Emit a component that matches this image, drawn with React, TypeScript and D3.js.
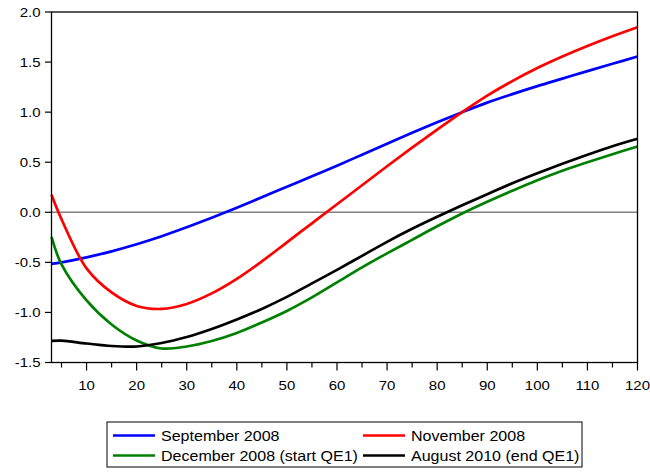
import React from 'react';
import * as d3 from 'd3';

// horizon (months) sampled along the curves
const horizons = [3, 5, 10, 15, 20, 25, 30, 35, 40, 45, 50, 55, 60, 65, 70, 75, 80, 85, 90, 95, 100, 105, 110, 115, 120];

const sep2008 = [-0.515, -0.5, -0.45, -0.39, -0.32, -0.24, -0.15, -0.055, 0.045, 0.15, 0.255, 0.36, 0.465, 0.575, 0.685, 0.795, 0.9, 1.0, 1.095, 1.18, 1.26, 1.335, 1.41, 1.483, 1.555];
const nov2008 = [0.175, -0.07, -0.56, -0.8, -0.935, -0.965, -0.915, -0.81, -0.665, -0.49, -0.3, -0.11, 0.08, 0.27, 0.46, 0.645, 0.825, 1.0, 1.165, 1.31, 1.44, 1.555, 1.66, 1.757, 1.847];
const dec2008 = [-0.246, -0.52, -0.88, -1.12, -1.28, -1.36, -1.34, -1.285, -1.205, -1.1, -0.985, -0.85, -0.7, -0.55, -0.41, -0.275, -0.14, -0.012, 0.105, 0.215, 0.32, 0.415, 0.5, 0.58, 0.657];
const aug2010 = [-1.285, -1.282, -1.31, -1.335, -1.34, -1.305, -1.245, -1.165, -1.07, -0.965, -0.845, -0.71, -0.575, -0.435, -0.295, -0.165, -0.045, 0.07, 0.18, 0.29, 0.39, 0.485, 0.575, 0.66, 0.734];

const seriesNames = ['September 2008', 'November 2008', 'December 2008 (start QE1)', 'August 2010 (end QE1)'];
const seriesColors = ['#0000ff', '#ff0000', '#008000', '#000000'];
const seriesValues = [sep2008, nov2008, dec2008, aug2010];

const yTicks = [-1.5, -1.0, -0.5, 0.0, 0.5, 1.0, 1.5, 2.0];
const xMajor = [10, 20, 30, 40, 50, 60, 70, 80, 90, 100, 110, 120];
const xMinor = [5, 15, 25, 35, 45, 55, 65, 75, 85, 95, 105, 115];

const W = 650;
const H = 472;
const FONT = '"Liberation Sans", Arial, sans-serif';
const TICK_STRETCH = 1.2;

export default function App() {
  const x = d3.scaleLinear().domain([3, 120]).range([51.5, 637.5]);
  const y = d3.scaleLinear().domain([-1.5, 2.0]).range([362.5, 12]);

  const line = d3.line<number>()
    .x((_, i) => x(horizons[i]))
    .y(d => y(d))
    .curve(d3.curveCatmullRom.alpha(0.5));

  const [x0, x1] = x.range();
  const [yb, yt] = y.range();

  // legend placement
  const lg = { left: 107, top: 422, width: 475, height: 45 };
  const colX = [113, 363];
  const rowY = [435.5, 455.5];

  return (
    <svg width={W} height={H} style={{ position: 'absolute', left: 0, top: 0, background: '#fff' }}
      fontFamily={FONT}>
      <rect x={0} y={0} width={W} height={H} fill="#fff" />

      {/* zero line */}
      <line x1={x0} x2={x1} y1={y(0)} y2={y(0)} stroke="#808080" strokeWidth={1.5} />

      <g fill="none" strokeWidth={2.7} strokeLinejoin="round">
        {seriesValues.map((vals, i) => (
          <path key={i} d={line(vals) || ''} stroke={seriesColors[i]} />
        ))}
      </g>

      {/* frame */}
      <rect x={x0} y={yt} width={x1 - x0} height={yb - yt} fill="none" stroke="#000" strokeWidth={1.3} />

      {/* y axis */}
      {yTicks.map(t => (
        <g key={t}>
          <line x1={x0 - 6.5} x2={x0} y1={y(t)} y2={y(t)} stroke="#000" strokeWidth={1.2} />
          <text transform={`translate(${x0 - 11},${y(t) + 4.5}) scale(${TICK_STRETCH},1)`}
            textAnchor="end" fontSize={12.5} fill="#000">{t.toFixed(1)}</text>
        </g>
      ))}

      {/* x axis */}
      {xMinor.map(t => (
        <line key={'m' + t} x1={x(t)} x2={x(t)} y1={yb} y2={yb + 5} stroke="#000" strokeWidth={1.2} />
      ))}
      {xMajor.map(t => (
        <g key={t}>
          <line x1={x(t)} x2={x(t)} y1={yb} y2={yb + 8} stroke="#000" strokeWidth={1.2} />
          <text transform={`translate(${x(t)},${yb + 27.5}) scale(${TICK_STRETCH},1)`}
            textAnchor="middle" fontSize={12.5} fill="#000">{t}</text>
        </g>
      ))}

      {/* legend */}
      <rect x={lg.left} y={lg.top} width={lg.width} height={lg.height} fill="#fff" stroke="#000" strokeWidth={1} />
      {seriesNames.map((name, i) => {
        const cx = colX[i % 2];
        const cy = rowY[Math.floor(i / 2)];
        return (
          <g key={name}>
            <line x1={cx} x2={cx + 42} y1={cy} y2={cy} stroke={seriesColors[i]} strokeWidth={2.6} />
            <text transform={`translate(${cx + 48},${cy + 5.5}) scale(1.07,1)`} fontSize={15} fill="#000">{name}</text>
          </g>
        );
      })}
    </svg>
  );
}
